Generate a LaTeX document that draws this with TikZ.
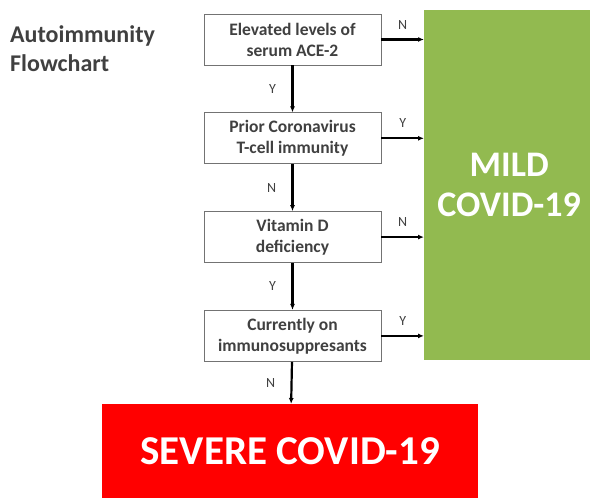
\documentclass[tikz,border=0pt]{standalone}
\usepackage{fontspec}
\setmainfont{Carlito}
\usetikzlibrary{arrows.meta, positioning}
\definecolor{mildgreen}{RGB}{146,186,80}
\definecolor{severered}{RGB}{255,0,0}
\definecolor{textgray}{RGB}{64,64,64}

\begin{document}
\begin{tikzpicture}[
    x=1pt, y=1pt,
    node distance=47pt,
    box/.style={rectangle, draw=black!55, line width=0.8pt, fill=white, align=center, minimum width=177pt, minimum height=51pt, inner sep=2pt, font=\fontsize{17.5}{21}\selectfont\bfseries, text=textgray},
    outcome/.style={rectangle, align=center, text=white, inner sep=0pt},
    arrow/.style={-{Latex[length=6pt, width=5pt]}, line width=2.2pt},
    lab/.style={font=\fontsize{14}{14}\selectfont, text=textgray}
]
\useasboundingbox (0,0) rectangle (590,498);

\node[anchor=north west, align=left, inner sep=0pt, font=\fontsize{24}{29}\selectfont\bfseries, text=textgray] (title) at (10,473) {Autoimmunity\\Flowchart};

\node[box] (ace) at (292.5,458.5) {Elevated levels of\\serum ACE-2};
\node[box, below=of ace] (tcell) {Prior Coronavirus\\T-cell immunity};
\node[box, below=of tcell] (vitd) {Vitamin D\\deficiency};
\node[box, below=of vitd] (immuno) {Currently on\\immunosuppresants};

\node[outcome, fill=mildgreen, anchor=north west, minimum width=170pt, minimum height=350pt, font=\fontsize{36}{40}\selectfont\bfseries] (mild) at (424,488) {MILD\\COVID-19};
\node[outcome, fill=severered, anchor=north west, minimum width=376pt, minimum height=94pt, font=\fontsize{41}{44}\selectfont\bfseries] (severe) at (102,94) {SEVERE COVID-19};

\draw[arrow] (ace.east) -- (ace.east -| mild.west) node[lab, midway, above=6pt] {N};
\draw[arrow] (tcell.east) -- (tcell.east -| mild.west) node[lab, midway, above=6pt] {Y};
\draw[arrow] (vitd.east) -- (vitd.east -| mild.west) node[lab, midway, above=6pt] {N};
\draw[arrow] (immuno.east) -- (immuno.east -| mild.west) node[lab, midway, above=6pt] {Y};

\draw[arrow] (ace) -- (tcell) node[lab, midway, left=12pt] {Y};
\draw[arrow] (tcell) -- (vitd) node[lab, midway, left=12pt] {N};
\draw[arrow] (vitd) -- (immuno) node[lab, midway, left=12pt] {Y};
\draw[arrow] (immuno) -- (severe) node[lab, midway, left=12pt] {N};

\end{tikzpicture}
\end{document}
